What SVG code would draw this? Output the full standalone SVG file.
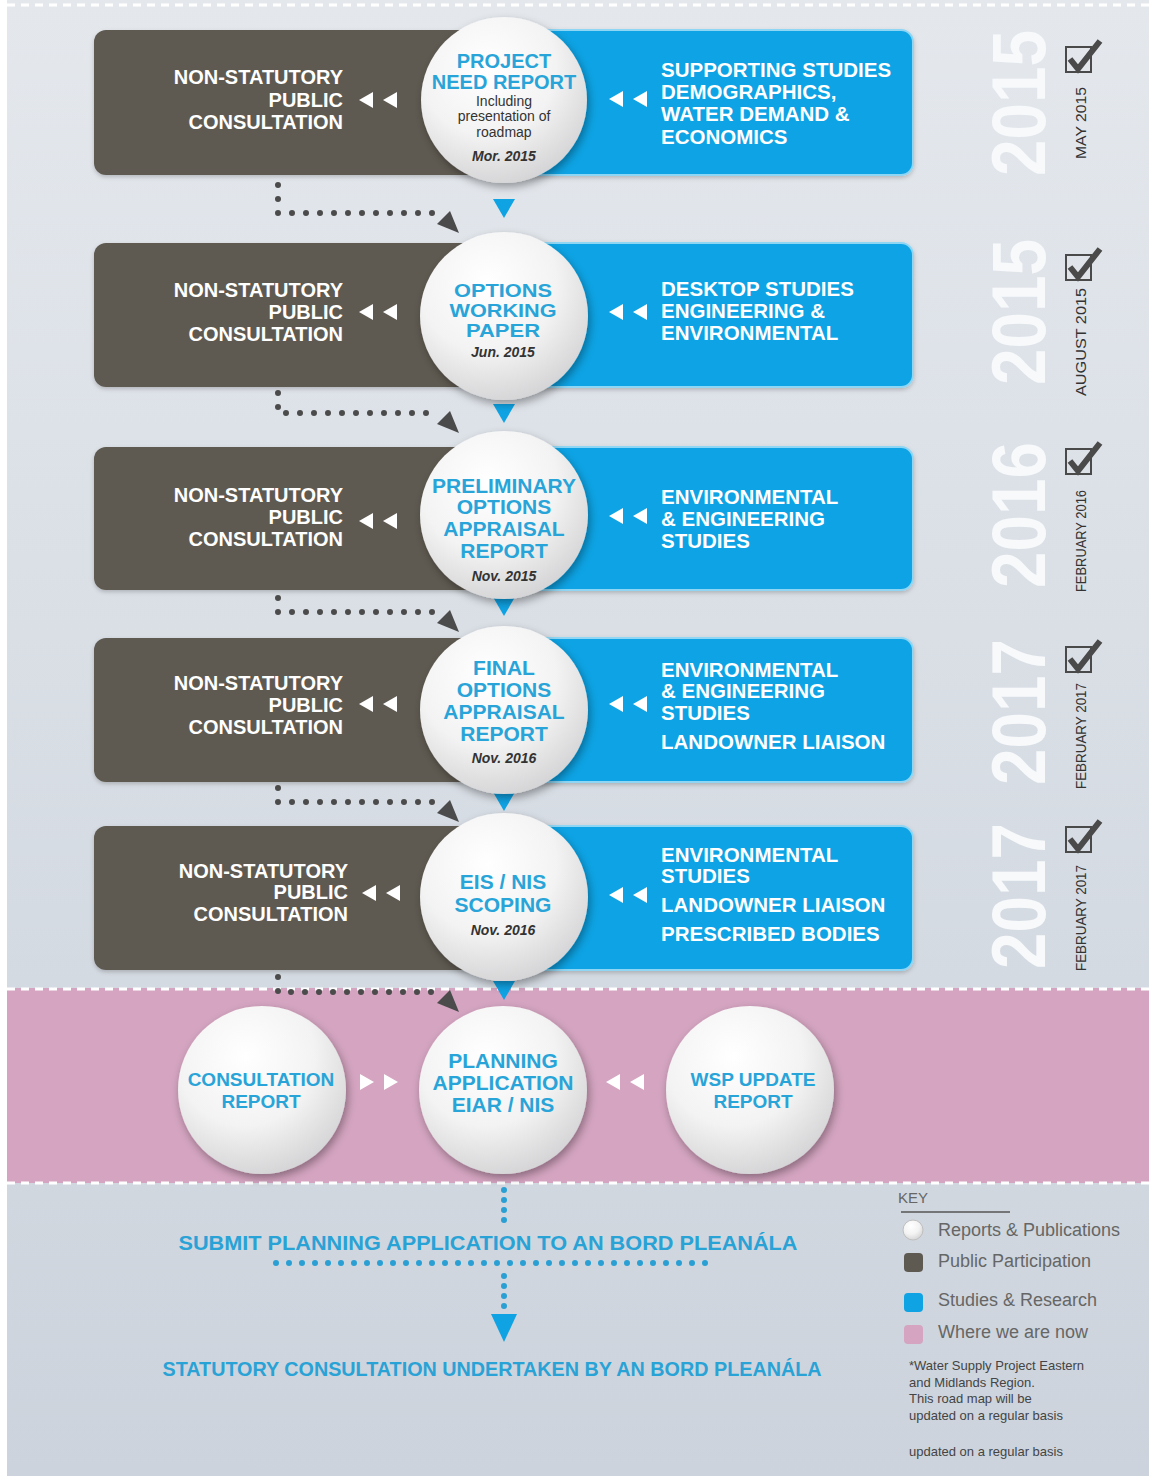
<svg xmlns="http://www.w3.org/2000/svg" xmlns:xlink="http://www.w3.org/1999/xlink" width="1151" height="1476" viewBox="0 0 1151 1476">
<defs>
<linearGradient id="bg" x1="0" y1="0" x2="0" y2="1">
<stop offset="0" stop-color="#e4e8ed"/>
<stop offset="1" stop-color="#ccd3dc"/>
</linearGradient>
<radialGradient id="disc" cx="0.4" cy="0.3" r="0.75">
<stop offset="0" stop-color="#ffffff"/>
<stop offset="0.55" stop-color="#f3f3f3"/>
<stop offset="1" stop-color="#d2d2d4"/>
</radialGradient>
<filter id="sh" x="-20%" y="-20%" width="150%" height="150%">
<feDropShadow dx="2" dy="4" stdDeviation="4" flood-color="#000" flood-opacity="0.35"/>
</filter>
<filter id="sh2" x="-10%" y="-10%" width="120%" height="130%">
<feDropShadow dx="0" dy="2" stdDeviation="2" flood-color="#000" flood-opacity="0.2"/>
</filter>
<g id="dl" fill="#ffffff"><polygon points="0,0 14,-8 14,8"/><polygon points="24,0 38,-8 38,8"/></g>
<g id="dr" fill="#ffffff"><polygon points="14,0 0,-8 0,8"/><polygon points="38,0 24,-8 24,8"/></g>
<g id="chk"><rect x="0" y="0" width="25" height="25" fill="none" stroke="#4a4a4a" stroke-width="2"/><path d="M4,12 L12,22 L34,-6" fill="none" stroke="#4a4a4a" stroke-width="6" stroke-linejoin="miter"/></g>
<style>
.dark{fill:#5e5a51;filter:url(#sh2)}
.blue{fill:#0fa3e4;stroke:#8fd6f4;stroke-width:2;filter:url(#sh2)}
.disc{fill:url(#disc);filter:url(#sh)}
.lt{font-family:"Liberation Sans",Arial,sans-serif;font-weight:bold;font-size:20px;fill:#ffffff;text-anchor:end}
.rt{font-family:"Liberation Sans",Arial,sans-serif;font-weight:bold;font-size:20.5px;fill:#ffffff}
.ct{font-family:"Liberation Sans",Arial,sans-serif;font-weight:bold;font-size:21px;fill:#29a4d8;text-anchor:middle}
.cs{font-family:"Liberation Sans",Arial,sans-serif;font-size:14px;fill:#333333;text-anchor:middle}
.cd{font-family:"Liberation Sans",Arial,sans-serif;font-weight:bold;font-style:italic;font-size:14px;fill:#333333;text-anchor:middle}
.yr{font-family:"Liberation Sans",Arial,sans-serif;font-weight:bold;font-size:76px;fill:#f7f9fb;text-anchor:middle}
.mo{font-family:"Liberation Sans",Arial,sans-serif;font-size:14px;fill:#333333;text-anchor:middle}
.bt{font-family:"Liberation Sans",Arial,sans-serif;font-weight:bold;font-size:21px;fill:#29a2d6;text-anchor:middle}
.kt{font-family:"Liberation Sans",Arial,sans-serif;font-size:18px;fill:#666666}
.nt{font-family:"Liberation Sans",Arial,sans-serif;font-size:13px;fill:#444444}
.dots{fill:none;stroke:#4b4b4b;stroke-width:6;stroke-linecap:round;stroke-dasharray:0 14}
.bdots{fill:none;stroke:#2a9fd4;stroke-width:6;stroke-linecap:round}
.dash{fill:none;stroke:#ffffff;stroke-width:3;stroke-dasharray:8 6}
</style>
</defs>

<rect x="0" y="0" width="1151" height="1476" fill="#ffffff"/>
<rect x="7" y="0" width="1142" height="1476" fill="url(#bg)"/>
<line class="dash" x1="7" y1="5" x2="1149" y2="5"/>

<g id="now-band">
<rect x="7" y="988" width="1142" height="195" fill="#d4a4c0"/>
<line class="dash" x1="7" y1="989" x2="1149" y2="989"/>
<line class="dash" x1="7" y1="1183" x2="1149" y2="1183"/>
</g>

<!-- year column -->
<g id="years">
<text class="yr" transform="translate(1045,103) rotate(-90)" textLength="146" lengthAdjust="spacingAndGlyphs">2015</text>
<text class="yr" transform="translate(1045,312) rotate(-90)" textLength="146" lengthAdjust="spacingAndGlyphs">2015</text>
<text class="yr" transform="translate(1045,515) rotate(-90)" textLength="146" lengthAdjust="spacingAndGlyphs">2016</text>
<text class="yr" transform="translate(1045,712) rotate(-90)" textLength="146" lengthAdjust="spacingAndGlyphs">2017</text>
<text class="yr" transform="translate(1045,896) rotate(-90)" textLength="146" lengthAdjust="spacingAndGlyphs">2017</text>
<text class="mo" transform="translate(1086,123) rotate(-90)" textLength="72" lengthAdjust="spacingAndGlyphs">MAY 2015</text>
<text class="mo" transform="translate(1086,342) rotate(-90)" textLength="108" lengthAdjust="spacingAndGlyphs">AUGUST 2015</text>
<text class="mo" transform="translate(1086,541) rotate(-90)" textLength="102" lengthAdjust="spacingAndGlyphs">FEBRUARY 2016</text>
<text class="mo" transform="translate(1086,736) rotate(-90)" textLength="106" lengthAdjust="spacingAndGlyphs">FEBRUARY 2017</text>
<text class="mo" transform="translate(1086,918) rotate(-90)" textLength="106" lengthAdjust="spacingAndGlyphs">FEBRUARY 2017</text>
<use href="#chk" x="1066" y="47"/>
<use href="#chk" x="1066" y="255"/>
<use href="#chk" x="1066" y="449"/>
<use href="#chk" x="1066" y="647"/>
<use href="#chk" x="1066" y="827"/>
</g>

<!-- connectors -->
<g id="connectors">
<path class="dots" d="M278,185 V213 H440"/>
<polygon points="459,233 437,224 450,211" fill="#4b4b4b"/>
<path class="dots" d="M278,393 V413 H440"/>
<polygon points="459,433 437,424 450,411" fill="#4b4b4b"/>
<path class="dots" d="M278,598 V612 H440"/>
<polygon points="459,632 437,623 450,610" fill="#4b4b4b"/>
<path class="dots" d="M278,788 V802 H440"/>
<polygon points="459,822 437,813 450,800" fill="#4b4b4b"/>
<path class="dots" d="M278,977 V992 H440"/>
<polygon points="459,1012 437,1003 450,990" fill="#4b4b4b"/>
<polygon points="493,199 515,199 504,218" fill="#0fa3e4"/>
<polygon points="493,404 515,404 504,423" fill="#0fa3e4"/>
<polygon points="493,597 515,597 504,616" fill="#0fa3e4"/>
<polygon points="493,792 515,792 504,811" fill="#0fa3e4"/>
<polygon points="493,981 515,981 504,1000" fill="#0fa3e4"/>
<path class="bdots" d="M504,1190 V1228" stroke-width="5" stroke-dasharray="0 10"/>
<path class="bdots" d="M276,1263 H714" stroke-width="7" stroke-dasharray="0 13"/>
<path class="bdots" d="M504,1276 V1310" stroke-width="6" stroke-dasharray="0 10"/>
<polygon points="491,1314 517,1314 504,1342" fill="#0fa3e4"/>
</g>

<!-- row 1 -->
<g id="row1">
<rect class="dark" x="94" y="30" width="420" height="145" rx="12"/>
<rect class="blue" x="494" y="30" width="419" height="145" rx="12"/>
<text class="lt" x="343" y="84">NON-STATUTORY</text>
<text class="lt" x="343" y="107">PUBLIC</text>
<text class="lt" x="343" y="129">CONSULTATION</text>
<use href="#dl" x="359" y="100"/>
<use href="#dl" x="609" y="99"/>
<text class="rt" x="661" y="77">SUPPORTING STUDIES</text>
<text class="rt" x="661" y="99">DEMOGRAPHICS,</text>
<text class="rt" x="661" y="121">WATER DEMAND &amp;</text>
<text class="rt" x="661" y="144">ECONOMICS</text>
</g>
<g id="node-project-need-report">
<circle class="disc" cx="504" cy="100" r="83"/>
<text class="ct" x="504" y="68" style="font-size:20px">PROJECT</text>
<text class="ct" x="504" y="89" style="font-size:20px">NEED REPORT</text>
<text class="cs" x="504" y="106">Including</text>
<text class="cs" x="504" y="121">presentation of</text>
<text class="cs" x="504" y="137">roadmap</text>
<text class="cd" x="504" y="161">Mor. 2015</text>
</g>

<!-- row 2 -->
<g id="row2">
<rect class="dark" x="94" y="243" width="420" height="144" rx="12"/>
<rect class="blue" x="494" y="243" width="419" height="144" rx="12"/>
<text class="lt" x="343" y="297">NON-STATUTORY</text>
<text class="lt" x="343" y="319">PUBLIC</text>
<text class="lt" x="343" y="341">CONSULTATION</text>
<use href="#dl" x="359" y="312"/>
<use href="#dl" x="609" y="312"/>
<text class="rt" x="661" y="296">DESKTOP STUDIES</text>
<text class="rt" x="661" y="318">ENGINEERING &amp;</text>
<text class="rt" x="661" y="340">ENVIRONMENTAL</text>
</g>
<g id="node-options-working-paper">
<circle class="disc" cx="504" cy="316" r="84"/>
<text class="ct" x="503" y="297" style="font-size:19px" textLength="98" lengthAdjust="spacingAndGlyphs">OPTIONS</text>
<text class="ct" x="503" y="317" style="font-size:19px" textLength="107" lengthAdjust="spacingAndGlyphs">WORKING</text>
<text class="ct" x="503" y="337" style="font-size:19px" textLength="74" lengthAdjust="spacingAndGlyphs">PAPER</text>
<text class="cd" x="503" y="357">Jun. 2015</text>
</g>

<!-- row 3 -->
<g id="row3">
<rect class="dark" x="94" y="447" width="420" height="143" rx="12"/>
<rect class="blue" x="494" y="447" width="419" height="143" rx="12"/>
<text class="lt" x="343" y="502">NON-STATUTORY</text>
<text class="lt" x="343" y="524">PUBLIC</text>
<text class="lt" x="343" y="546">CONSULTATION</text>
<use href="#dl" x="359" y="521"/>
<use href="#dl" x="609" y="516"/>
<text class="rt" x="661" y="504">ENVIRONMENTAL</text>
<text class="rt" x="661" y="526">&amp; ENGINEERING</text>
<text class="rt" x="661" y="548">STUDIES</text>
</g>
<g id="node-preliminary-options-appraisal-report">
<circle class="disc" cx="504" cy="515" r="84"/>
<text class="ct" x="504" y="493">PRELIMINARY</text>
<text class="ct" x="504" y="514">OPTIONS</text>
<text class="ct" x="504" y="536">APPRAISAL</text>
<text class="ct" x="504" y="558">REPORT</text>
<text class="cd" x="504" y="581">Nov. 2015</text>
</g>

<!-- row 4 -->
<g id="row4">
<rect class="dark" x="94" y="638" width="420" height="144" rx="12"/>
<rect class="blue" x="494" y="638" width="419" height="144" rx="12"/>
<text class="lt" x="343" y="690">NON-STATUTORY</text>
<text class="lt" x="343" y="712">PUBLIC</text>
<text class="lt" x="343" y="734">CONSULTATION</text>
<use href="#dl" x="359" y="704"/>
<use href="#dl" x="609" y="704"/>
<text class="rt" x="661" y="677">ENVIRONMENTAL</text>
<text class="rt" x="661" y="698">&amp; ENGINEERING</text>
<text class="rt" x="661" y="720">STUDIES</text>
<text class="rt" x="661" y="749">LANDOWNER LIAISON</text>
</g>
<g id="node-final-options-appraisal-report">
<circle class="disc" cx="504" cy="710" r="84"/>
<text class="ct" x="504" y="675">FINAL</text>
<text class="ct" x="504" y="697">OPTIONS</text>
<text class="ct" x="504" y="719">APPRAISAL</text>
<text class="ct" x="504" y="741">REPORT</text>
<text class="cd" x="504" y="763">Nov. 2016</text>
</g>

<!-- row 5 -->
<g id="row5">
<rect class="dark" x="94" y="826" width="420" height="144" rx="12"/>
<rect class="blue" x="494" y="826" width="419" height="144" rx="12"/>
<text class="lt" x="348" y="878">NON-STATUTORY</text>
<text class="lt" x="348" y="899">PUBLIC</text>
<text class="lt" x="348" y="921">CONSULTATION</text>
<use href="#dl" x="362" y="893"/>
<use href="#dl" x="609" y="895"/>
<text class="rt" x="661" y="862">ENVIRONMENTAL</text>
<text class="rt" x="661" y="883">STUDIES</text>
<text class="rt" x="661" y="912">LANDOWNER LIAISON</text>
<text class="rt" x="661" y="941">PRESCRIBED BODIES</text>
</g>
<g id="node-eis-nis-scoping">
<circle class="disc" cx="504" cy="897" r="84"/>
<text class="ct" x="503" y="889">EIS / NIS</text>
<text class="ct" x="503" y="912">SCOPING</text>
<text class="cd" x="503" y="935">Nov. 2016</text>
</g>

<!-- bottom row (where we are now) -->
<g id="node-consultation-report">
<circle class="disc" cx="262" cy="1090" r="84"/>
<text class="ct" x="261" y="1086" style="font-size:19px">CONSULTATION</text>
<text class="ct" x="261" y="1108" style="font-size:19px">REPORT</text>
</g>
<use href="#dr" x="360" y="1082"/>
<g id="node-planning-application">
<circle class="disc" cx="503" cy="1090" r="84"/>
<text class="ct" x="503" y="1068">PLANNING</text>
<text class="ct" x="503" y="1090">APPLICATION</text>
<text class="ct" x="503" y="1112">EIAR / NIS</text>
</g>
<use href="#dl" x="606" y="1082"/>
<g id="node-wsp-update-report">
<circle class="disc" cx="750" cy="1090" r="84"/>
<text class="ct" x="753" y="1086" style="font-size:19px">WSP UPDATE</text>
<text class="ct" x="753" y="1108" style="font-size:19px">REPORT</text>
</g>

<!-- bottom steps -->
<g id="node-submit">
<text class="bt" x="488" y="1250" textLength="619" lengthAdjust="spacingAndGlyphs">SUBMIT PLANNING APPLICATION TO AN BORD PLEANÁLA</text>
</g>
<g id="node-statutory">
<text class="bt" x="492" y="1376" textLength="659" lengthAdjust="spacingAndGlyphs">STATUTORY CONSULTATION UNDERTAKEN BY AN BORD PLEANÁLA</text>
</g>

<!-- key -->
<g id="key">
<text class="kt" x="898" y="1203" style="font-size:15px">KEY</text>
<line x1="901" y1="1212" x2="1010" y2="1212" stroke="#555555" stroke-width="1.5"/>
<circle cx="913" cy="1230" r="10" fill="url(#disc)" stroke="#bfbfbf" stroke-width="1"/>
<text class="kt" x="938" y="1236">Reports &amp; Publications</text>
<rect x="904" y="1253" width="19" height="19" rx="4" fill="#5e5a51"/>
<text class="kt" x="938" y="1267">Public Participation</text>
<rect x="904" y="1293" width="19" height="19" rx="4" fill="#0fa3e4"/>
<text class="kt" x="938" y="1306">Studies &amp; Research</text>
<rect x="904" y="1325" width="19" height="19" rx="4" fill="#d4a4c0"/>
<text class="kt" x="938" y="1338">Where we are now</text>
<text class="nt" x="909" y="1370">*Water Supply Project Eastern</text>
<text class="nt" x="909" y="1387">and Midlands Region.</text>
<text class="nt" x="909" y="1403">This road map will be</text>
<text class="nt" x="909" y="1420">updated on a regular basis</text>
<text class="nt" x="909" y="1456">updated on a regular basis</text>
</g>
</svg>
